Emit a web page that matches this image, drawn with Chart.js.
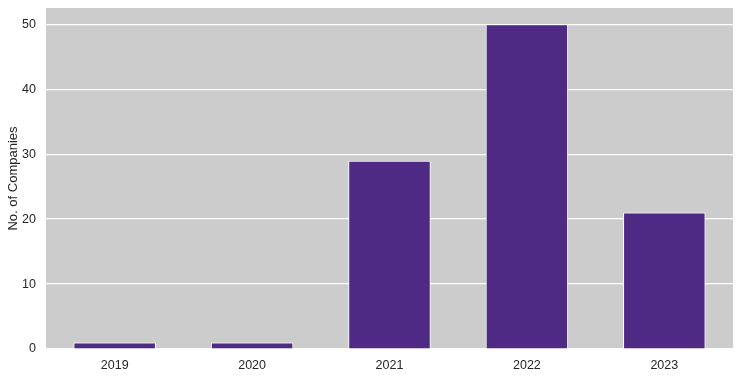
<!DOCTYPE html>
<html>
<head>
<meta charset="utf-8">
<script src="https://cdn.jsdelivr.net/npm/chart.js@4"></script>
<style>
html,body{margin:0;padding:0;background:#fff;}
#c{display:block;}
</style>
</head>
<body>
<canvas id="c" width="740" height="377"></canvas>
<script>
const years = ["2019", "2020", "2021", "2022", "2023"];
const companies = [1, 1, 29, 50, 21];
const yTicks = [0, 10, 20, 30, 40, 50];

const bgPlugin = {
  id: 'bg',
  beforeDraw(chart) {
    const {ctx, chartArea: a} = chart;
    ctx.save();
    ctx.fillStyle = '#cccccc';
    ctx.fillRect(a.left, a.top, a.right - a.left, a.bottom - a.top);
    ctx.restore();
  }
};

new Chart(document.getElementById('c'), {
  type: 'bar',
  data: {
    labels: years,
    datasets: [{
      data: companies,
      backgroundColor: '#4e2a84',
      borderColor: '#ffffff',
      borderWidth: 1,
      categoryPercentage: 1,
      barPercentage: 0.6
    }]
  },
  options: {
    responsive: false,
    animation: false,
    layout: {padding: {top: 0, right: 7, left: 6, bottom: 0}},
    plugins: {legend: {display: false}, tooltip: {enabled: false}},
    scales: {
      x: {
        grid: {display: false},
        border: {display: false},
        ticks: {color: '#262626', font: {family: 'Liberation Sans, Arial', size: 12.5}, padding: 1},
        afterFit(s) { s.height = 28; }
      },
      y: {
        min: 0,
        max: 52.5,
        afterBuildTicks(s) { s.ticks = yTicks.map(v => ({value: v})); },
        grid: {color: '#ffffff', lineWidth: 1.2, drawTicks: false},
        border: {display: false},
        ticks: {color: '#262626', font: {family: 'Liberation Sans, Arial', size: 12.5}, padding: 10},
        title: {display: true, text: 'No. of Companies', color: '#262626', font: {family: 'Liberation Sans, Arial', size: 13}, padding: {top: 0, bottom: 2}},
        afterFit(s) { s.width = 40; s.paddingTop = 8; s.paddingBottom = 0; }
      }
    }
  },
  plugins: [bgPlugin]
});
</script>
</body>
</html>
